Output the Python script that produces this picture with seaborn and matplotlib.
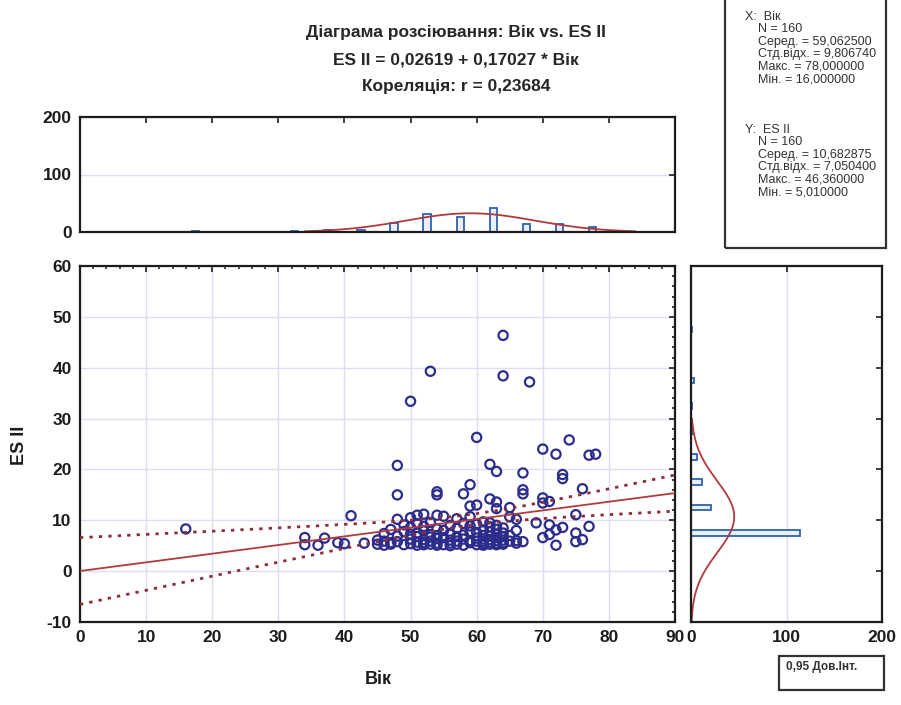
import numpy as np
import matplotlib
matplotlib.use("Agg")
import matplotlib.pyplot as plt
import seaborn as sns
from matplotlib.ticker import MultipleLocator
from matplotlib.patches import Rectangle

# Age (Вік) and ES II per patient
age = [16, 48, 50, 53, 64, 64, 68, 60, 62, 63, 67, 70, 72, 74, 77, 73, 73, 48, 54, 54,
       58, 59, 67, 67, 76, 78, 70, 70, 71, 62, 63, 59, 60, 63, 65, 41, 48, 51, 52, 54,
       55, 59, 65, 66, 75, 50, 57, 61, 69, 71, 72, 70, 71, 75, 76, 72, 75, 77, 73, 66,
       66, 67, 34, 34, 36, 37, 39, 40, 43, 45, 46, 47,
       45, 46, 47, 47, 48, 48, 49, 49, 49, 46,
       50, 50, 50, 51, 51, 51, 51, 52, 52, 52, 52, 52, 53, 53, 53, 53, 53, 54, 54, 54,
       54, 54, 50, 51,
       55, 55, 55, 56, 56, 56, 56, 57, 57, 57, 57, 58, 58, 58, 58, 59, 59, 59, 59, 56,
       60, 60, 60, 60, 60, 61, 61, 61, 61, 61, 61, 62, 62, 62, 62, 62, 62, 62,
       63, 63, 63, 63, 63, 63, 63, 64, 64, 64, 64, 64, 64, 65, 65, 66]
es2 = [8.3, 20.8, 33.4, 39.3, 46.36, 38.4, 37.2, 26.3, 21.0, 19.6, 19.3, 24.0, 23.0, 25.8, 22.8,
       19.0, 18.2, 15.0, 15.6, 15.0, 15.2, 17.0, 16.0, 15.2, 16.2, 23.0, 14.4, 13.4, 13.7, 14.2,
       13.6, 12.8, 13.0, 12.3, 12.5, 10.9, 10.2, 11.0, 11.2, 11.0, 10.8, 10.7, 10.7, 10.2, 11.1,
       10.5, 10.3, 9.7, 9.5, 9.1, 8.1, 6.6, 7.2, 7.5, 6.2, 5.1, 5.8, 8.8, 8.6, 6.0,
       5.5, 5.8, 6.6, 5.2, 5.1, 6.5, 5.6, 5.4, 5.5, 5.3, 5.1, 5.6,
       6.1, 7.4, 5.3, 8.2, 5.8, 6.9, 5.2, 7.8, 9.1, 5.9,
       5.4, 6.3, 8.6, 5.1, 6.8, 7.5, 9.3, 5.6, 6.2, 7.9, 8.8, 5.2, 5.9, 6.7, 7.2, 9.6, 5.3,
       5.5, 6.4, 8.3, 7.0, 5.1, 7.3, 5.7,
       5.2, 6.6, 8.0, 5.5, 6.1, 7.4, 9.0, 5.3, 5.9, 6.8, 8.4, 5.1, 6.3, 7.1, 9.4, 5.6, 6.0,
       7.7, 8.9, 5.01,
       5.2, 5.9, 6.5, 7.6, 9.2, 5.4, 5.8, 6.3, 7.0, 8.1, 5.1, 5.3, 5.7, 6.2, 6.9, 7.8, 8.7, 9.5,
       5.5, 6.0, 6.6, 7.3, 8.2, 5.2, 9.0, 5.6, 6.1, 6.8, 7.5, 8.5, 5.3, 5.9, 7.0, 8.0]

# summary statistics printed by the program
n_obs = 160
x_mean, x_sd, x_max, x_min = 59.0625, 9.80674, 78.0, 16.0
y_mean, y_sd, y_max, y_min = 10.682875, 7.05040, 46.36, 5.01
intercept, slope, r_xy = 0.02619, 0.17027, 0.23684
t_975 = 1.9751

title_lines = ["Діаграма розсіювання: Вік vs. ES II",
               "ES II = 0,02619 + 0,17027 * Вік",
               "Кореляція: r = 0,23684"]
stats_x = ["N = 160", "Серед. = 59,062500", "Стд.відх. = 9,806740",
           "Макс. = 78,000000", "Мін. = 16,000000"]
stats_y = ["N = 160", "Серед. = 10,682875", "Стд.відх. = 7,050400",
           "Макс. = 46,360000", "Мін. = 5,010000"]

x_ticks = [0, 10, 20, 30, 40, 50, 60, 70, 80, 90]
y_ticks = [-10, 0, 10, 20, 30, 40, 50, 60]
count_ticks = [0, 100, 200]

grid_c = "#dcdff0"
dot_c = "#2c2c8c"
line_c = "#b23a3c"
bar_edge = "#2f62b0"
bar_face = "#eaf0fa"
ink = "#1c1c1c"

sns.set_style("white")
plt.rcParams['font.family'] = ['Liberation Sans', 'DejaVu Sans']

fig = plt.figure(figsize=(9.01, 7.05), dpi=100)
ax = fig.add_axes([80/901, 83/705, 595/901, 356/705])
ax_top = fig.add_axes([80/901, 473/705, 595/901, 115/705])
ax_right = fig.add_axes([691/901, 83/705, 191/901, 356/705])


def frame(a):
    for sp in a.spines.values():
        sp.set_visible(True)
        sp.set_linewidth(1.6)
        sp.set_color(ink)
    a.tick_params(which="both", direction="in", top=True, right=True,
                  colors=ink, width=1.2)
    a.tick_params(which="major", length=4, labelsize=12.5, pad=6)
    a.tick_params(which="minor", length=2)
    a.set_xlabel("")
    a.set_ylabel("")


# main scatter
sns.scatterplot(x=age, y=es2, ax=ax, marker="o", s=44, facecolor="none",
                edgecolor=dot_c, linewidth=1.6, zorder=3)

xs = np.linspace(0, 90, 200)
fit = intercept + slope * xs
s_res = y_sd * np.sqrt((1 - r_xy ** 2) * (n_obs - 1) / (n_obs - 2))
sxx = (n_obs - 1) * x_sd ** 2
half = t_975 * s_res * np.sqrt(1 / n_obs + (xs - x_mean) ** 2 / sxx)
ax.plot(xs, fit, color=line_c, lw=1.3, zorder=4)
ax.plot(xs, fit + half, color="#8e2e3c", lw=2, ls=(0, (1.2, 2.2)), zorder=4)
ax.plot(xs, fit - half, color="#8e2e3c", lw=2, ls=(0, (1.2, 2.2)), zorder=4)

ax.set_xlim(0, 90)
ax.set_ylim(-10, 60)
ax.set_xticks(x_ticks, labels=[str(t) for t in x_ticks], fontweight="bold")
ax.set_yticks(y_ticks, labels=[str(t) for t in y_ticks], fontweight="bold")
ax.xaxis.set_minor_locator(MultipleLocator(2))
ax.yaxis.set_minor_locator(MultipleLocator(2))
ax.grid(True, which="major", color=grid_c, lw=1)
frame(ax)

# top histogram of age
sns.histplot(x=age, binwidth=5, binrange=(15, 80), shrink=0.22, ax=ax_top,
             facecolor=bar_face, edgecolor=bar_edge, linewidth=1.3, alpha=1)
xt = np.linspace(34, 84, 200)
ax_top.plot(xt, n_obs * 5 * np.exp(-0.5 * ((xt - x_mean) / x_sd) ** 2) / (x_sd * np.sqrt(2 * np.pi)),
            color=line_c, lw=1.3)
ax_top.set_xlim(0, 90)
ax_top.set_ylim(0, 200)
ax_top.set_xticks(x_ticks, labels=[])
ax_top.set_yticks(count_ticks, labels=[str(t) for t in count_ticks], fontweight="bold")
ax_top.yaxis.grid(True, color=grid_c, lw=1)
ax_top.xaxis.grid(False)
frame(ax_top)

# right histogram of ES II
sns.histplot(y=es2, binwidth=5, binrange=(5, 50), shrink=0.22, ax=ax_right,
             facecolor=bar_face, edgecolor=bar_edge, linewidth=1.3, alpha=1)
yt = np.linspace(-10, 30, 200)
ax_right.plot(n_obs * 5 * np.exp(-0.5 * ((yt - y_mean) / y_sd) ** 2) / (y_sd * np.sqrt(2 * np.pi)), yt,
              color=line_c, lw=1.3)
ax_right.set_ylim(-10, 60)
ax_right.set_xlim(0, 200)
ax_right.set_yticks(y_ticks, labels=[])
ax_right.set_xticks(count_ticks, labels=[str(t) for t in count_ticks], fontweight="bold")
ax_right.xaxis.grid(True, color=grid_c, lw=1)
ax_right.yaxis.grid(False)
frame(ax_right)

# titles and labels
for i, line in enumerate(title_lines):
    fig.text(456/901, 1 - (33 + 27 * i)/705, line, ha="center", va="center",
             fontsize=12.5, fontweight="bold", color="#262626")
fig.text(378/901, 1 - 680/705, "Вік", ha="center", va="center",
         fontsize=13, fontweight="bold", color=ink)
fig.text(20/901, 1 - 445/705, "ES II", ha="center", va="center", rotation=90,
         fontsize=13, fontweight="bold", color=ink)

# stats box
fig.patches.append(Rectangle((725/901, 457/705), 161/901, 260/705, transform=fig.transFigure,
                             fill=False, lw=1.6, ec="#333333"))
fs = 9
fig.text(745/901, 1 - 17/705, "X:  Вік", fontsize=fs, va="center", color="#333333")
for i, s in enumerate(stats_x):
    fig.text(758/901, 1 - (29 + 12.6 * i)/705, s, fontsize=fs, va="center", color="#333333")
fig.text(745/901, 1 - 130/705, "Y:  ES II", fontsize=fs, va="center", color="#333333")
for i, s in enumerate(stats_y):
    fig.text(758/901, 1 - (142 + 12.6 * i)/705, s, fontsize=fs, va="center", color="#333333")

# confidence legend box
fig.patches.append(Rectangle((779/901, 15/705), 105/901, 34/705, transform=fig.transFigure,
                             fill=False, lw=1.6, ec="#333333"))
fig.text(786/901, 1 - 667/705, "0,95 Дов.Інт.", fontsize=8.5, fontweight="bold",
         va="center", color="#333333")

fig.savefig("out.png", dpi=100)
